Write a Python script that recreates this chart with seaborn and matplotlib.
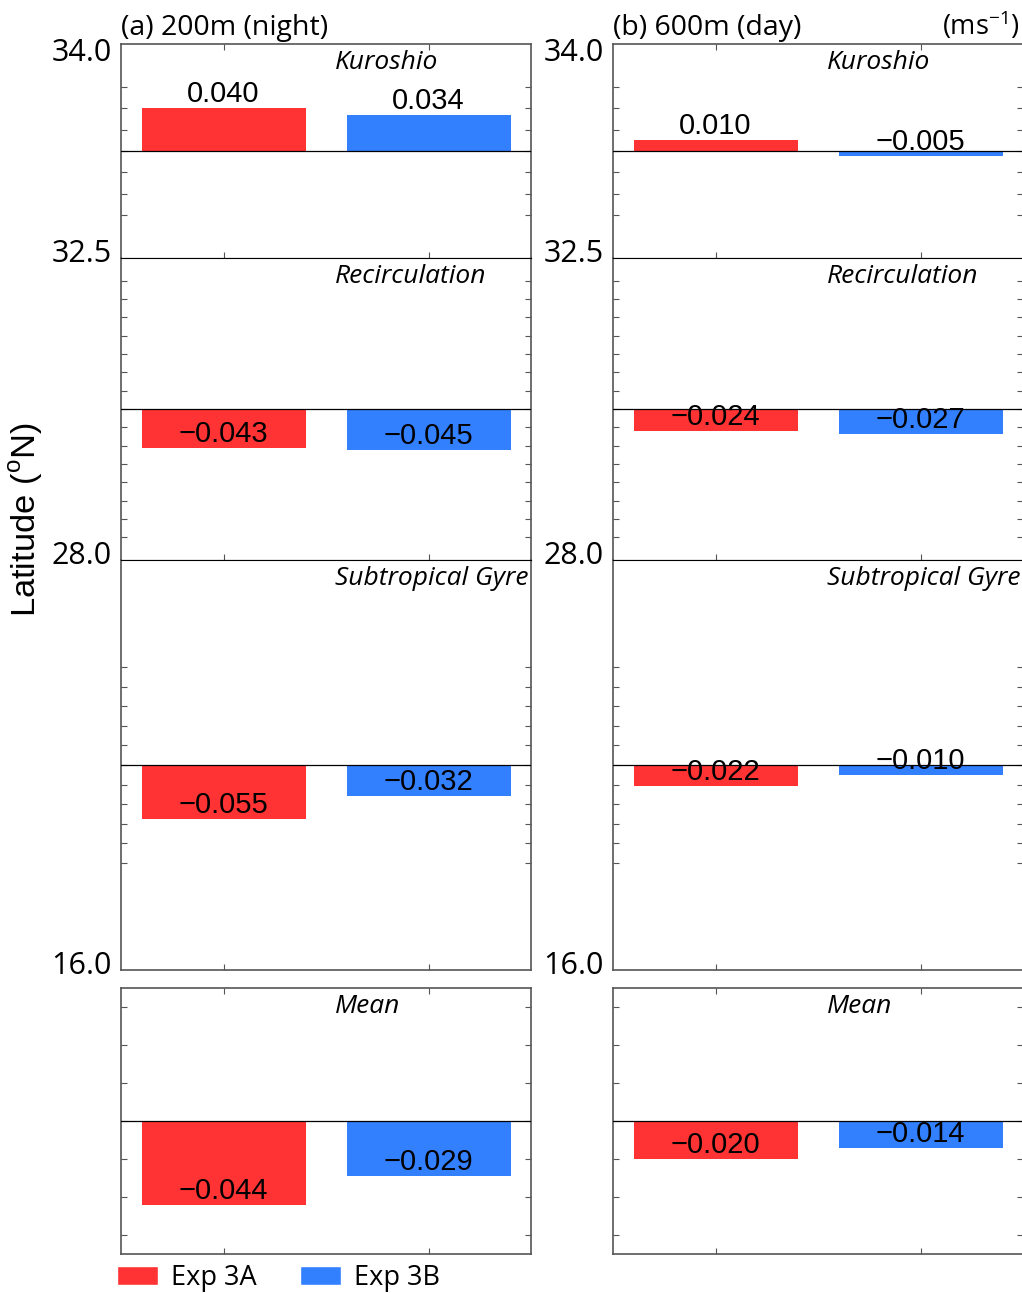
import matplotlib
matplotlib.use("Agg")
import matplotlib.pyplot as plt
from matplotlib.patches import Patch
import seaborn as sns
import pandas as pd

# ---- data -------------------------------------------------------------
regions = ["Kuroshio", "Recirculation", "Subtropical Gyre", "Mean"]
experiments = ["Exp 3A", "Exp 3B"]
lat_edges = ["34.0", "32.5", "28.0", "16.0"]

# velocity change (m s-1), ordered as `regions`
night200_exp3a = [0.040, -0.043, -0.055, -0.044]
night200_exp3b = [0.034, -0.045, -0.032, -0.029]
day600_exp3a = [0.010, -0.024, -0.022, -0.020]
day600_exp3b = [-0.005, -0.027, -0.010, -0.014]

panel_titles = ["(a) 200m (night)", "(b) 600m (day)"]
unit_label = "(ms$^{\\mathregular{-1}}$)"

# ---- style ------------------------------------------------------------
sns.set_theme(style="ticks")
plt.rcParams["font.family"] = ["Open Sans", "DejaVu Sans"]
plt.rcParams["mathtext.fontset"] = "custom"
plt.rcParams["mathtext.rm"] = "Open Sans"
plt.rcParams["mathtext.it"] = "Open Sans:italic"
plt.rcParams["text.color"] = "black"

RED = "#FF3333"
BLUE = "#3380FF"
FRAME = "#555555"
W, H = 1022, 1293

# axis half-ranges and tick extents for each region panel
half_range = [0.10, 0.165, 0.21, 0.07]
tick_extent = [0.06, 0.14, 0.10, 0.06]
# vertical pixel bands of the panels
bands = [(44, 258), (258, 560), (560, 970), (988, 1254)]
col_x = [121, 613]
col_w = 410

fig = plt.figure(figsize=(W / 100, H / 100), dpi=100)


def rect(x0, y0, y1):
    return [x0 / W, 1 - y1 / H, col_w / W, (y1 - y0) / H]


def fmt(v):
    return f"{v:.3f}".replace("-", "\u2212")


columns = [(night200_exp3a, night200_exp3b), (day600_exp3a, day600_exp3b)]

for c, (vals_a, vals_b) in enumerate(columns):
    for r, region in enumerate(regions):
        y0, y1 = bands[r]
        ax = fig.add_axes(rect(col_x[c], y0, y1))
        df = pd.DataFrame({"exp": experiments, "value": [vals_a[r], vals_b[r]]})
        sns.barplot(data=df, x="exp", y="value", hue="exp",
                    palette=[RED, BLUE], saturation=1, width=0.8,
                    legend=False, ax=ax, edgecolor="none")
        h = half_range[r]
        ax.set_xlim(-0.5, 1.5)
        ax.set_ylim(-h, h)
        ax.axhline(0, color="black", lw=0.9, zorder=3)
        ax.set_xlabel("")
        ax.set_ylabel("")
        ax.set_xticks([0, 1])
        ax.set_xticklabels([])
        te = tick_extent[r]
        n = int(round(te / 0.02))
        ax.set_yticks([k * 0.02 for k in range(-n, n + 1)])
        ax.set_yticklabels([])
        ax.tick_params(axis="both", direction="in", length=4, width=0.8,
                       color=FRAME, left=True, right=True,
                       top=(r in (0, 3)), bottom=True)
        for side, sp in ax.spines.items():
            sp.set_visible(True)
            sp.set_linewidth(1.2)
            sp.set_color(FRAME)
        # inner boundaries between latitude bands are thin black lines
        if r in (0, 1):
            ax.spines["bottom"].set_color("black")
            ax.spines["bottom"].set_linewidth(0.8)
        if r in (1, 2):
            ax.spines["top"].set_color("black")
            ax.spines["top"].set_linewidth(0.8)

        # value labels sit on the end of each bar
        for i, v in enumerate([vals_a[r], vals_b[r]]):
            ax.text(i, v, fmt(v), ha="center", va="bottom", fontsize=21,
                    color="black",
                    family=["Liberation Sans", "DejaVu Sans"], zorder=4)

        ax.annotate(region, xy=(0.522, 1), xycoords="axes fraction",
                    xytext=(0, -4.5), textcoords="offset points",
                    ha="left", va="top", fontsize=19, style="italic",
                    color="black")

        # latitude labels at panel boundaries
        if r < 3:
            if r == 0:
                ax.annotate(lat_edges[0], xy=(0, 1), xycoords="axes fraction",
                            xytext=(-6.5, 4.5), textcoords="offset points",
                            ha="right", va="top", fontsize=22, color="black")
            ax.annotate(lat_edges[r + 1], xy=(0, 0), xycoords="axes fraction",
                        xytext=(-6.5, -3), textcoords="offset points",
                        ha="right", va="baseline", fontsize=22, color="black")
        if r == 0:
            ax.annotate(panel_titles[c], xy=(0, 1), xycoords="axes fraction",
                        xytext=(0, 6.5), textcoords="offset points",
                        ha="left", va="baseline", fontsize=20.5, color="black")
            if c == 1:
                ax.annotate(unit_label, xy=(1, 1), xycoords="axes fraction",
                            xytext=(-2, 6.5), textcoords="offset points",
                            ha="right", va="baseline", fontsize=19.5,
                            color="black")

fig.text(26 / W, 1 - 520 / H, "Latitude ($^{\\mathregular{o}}$N)",
         rotation=90, ha="center", va="center", fontsize=24.8, color="black",
         family=["Liberation Sans", "DejaVu Sans"])

handles = [Patch(facecolor=RED), Patch(facecolor=BLUE)]
fig.legend(handles, experiments, loc="center left",
           bbox_to_anchor=(117 / W, 1 - 1278 / H), ncol=2, frameon=False,
           fontsize=19.5, handlelength=1.5, handleheight=0.75,
           handletextpad=0.5, columnspacing=1.6, borderpad=0,
           borderaxespad=0)

fig.savefig("out.png", dpi=100)
